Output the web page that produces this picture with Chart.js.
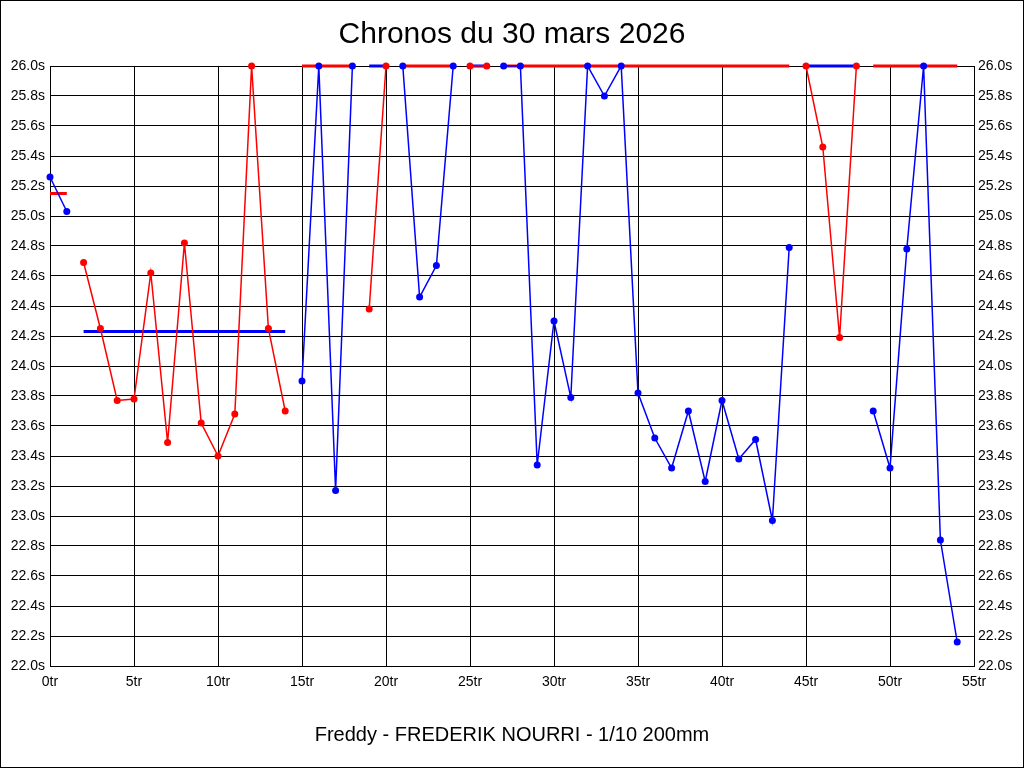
<!DOCTYPE html>
<html>
<head>
<meta charset="utf-8">
<script src="https://cdn.jsdelivr.net/npm/chart.js@4/dist/chart.umd.min.js"></script>
<style>
    html, body { margin: 0; padding: 0; background: #fff; }
    #wrap { position: relative; width: 1024px; height: 768px; }
    #chart { position: absolute; left: 0; top: 0; }
    .txt { position: absolute; left: 0; width: 1024px; text-align: center; color: #000;
           font-family: "Liberation Sans", Arial, sans-serif; white-space: nowrap; }
    #title { top: 16px; font-size: 30px; }
    #subtitle { top: 723px; font-size: 20px; }
</style>
</head>
<body>
<div id="wrap">
    <canvas id="chart" width="1024" height="768"></canvas>
    <div id="title" class="txt">Chronos du 30 mars 2026</div>
    <div id="subtitle" class="txt">Freddy - FREDERIK NOURRI - 1/10 200mm</div>
</div>
<script>
// lap times in seconds, one per lap (0tr..54tr); times over 26.0s are shown at the top edge
const lapTimes = [
    25.26, 25.03, 24.69, 24.25, 23.77, 23.78, 24.62, 23.49, 24.82, 23.62,
    23.40, 23.68, 26.0, 24.25, 23.70, 23.90, 26.0, 23.17, 26.0, 24.38,
    26.0, 26.0, 24.46, 24.67, 26.0, 26.0, 26.0, 26.0, 26.0, 23.34,
    24.30, 23.79, 26.0, 25.80, 26.0, 23.82, 23.52, 23.32, 23.70, 23.23,
    23.77, 23.38, 23.51, 22.97, 24.79, 26.0, 25.46, 24.19, 26.0, 23.70,
    23.32, 24.78, 26.0, 22.84, 22.16
];

// runs: first lap, last lap, colour of the run, average time of the run
const runStart = [0, 2, 15, 19, 21, 25, 27, 45, 49];
const runEnd   = [1, 14, 18, 20, 24, 26, 44, 48, 54];
const runColor = ["blue", "red", "blue", "red", "blue", "red", "blue", "red", "blue"];
const runAvg   = [25.15, 24.23, 26.0, 26.0, 26.0, 26.0, 26.0, 26.0, 26.0];

const xTicks = { min: 0, max: 55, step: 5 };
const yTicks = { min: 22.0, max: 26.0, step: 0.2 };

const COLORS = { red: "#ff0000", blue: "#0000ff" };

const datasets = [];
runStart.forEach((s, i) => {
    const pts = [];
    for (let lap = s; lap <= runEnd[i]; lap++) pts.push({ x: lap, y: lapTimes[lap] });
    const c = COLORS[runColor[i]];
    datasets.push({
        data: pts,
        showLine: true,
        borderColor: c,
        backgroundColor: c,
        borderWidth: 1.5,
        pointRadius: 3.5,
        pointBorderWidth: 0,
        pointBackgroundColor: c,
        clip: false,
        order: 1
    });
    // average line drawn in the other colour
    const ac = runColor[i] === "red" ? COLORS.blue : COLORS.red;
    datasets.push({
        data: [{ x: s, y: runAvg[i] }, { x: runEnd[i], y: runAvg[i] }],
        showLine: true,
        borderColor: ac,
        borderWidth: 3,
        pointRadius: 0,
        clip: false,
        order: 2
    });
});

const frame = {
    id: "frame",
    beforeDraw(chart) {
        const ctx = chart.ctx;
        ctx.save();
        ctx.fillStyle = "#fff";
        ctx.fillRect(0, 0, chart.width, chart.height);
        ctx.strokeStyle = "#000";
        ctx.lineWidth = 1;
        ctx.strokeRect(0.5, 0.5, chart.width - 1, chart.height - 1);
        ctx.restore();
    },
    beforeDatasetsDraw(chart) {
        const ctx = chart.ctx;
        const a = chart.chartArea;
        ctx.save();
        ctx.strokeStyle = "#000";
        ctx.lineWidth = 1;
        ctx.strokeRect(Math.round(a.left) + 0.5, Math.round(a.top) + 0.5,
                       Math.round(a.right - a.left), Math.round(a.bottom - a.top));
        ctx.restore();
    }
};

const tickFont = { family: "'Liberation Sans', Arial, sans-serif", size: 14 };
const yLabel = v => Number(v).toFixed(1) + "s";

new Chart(document.getElementById("chart"), {
    type: "scatter",
    data: { datasets },
    options: {
        responsive: false,
        animation: false,
        events: [],
        layout: { padding: { top: 66, left: 0, right: 0, bottom: 0 } },
        plugins: { legend: { display: false }, tooltip: { enabled: false } },
        scales: {
            x: {
                type: "linear",
                min: xTicks.min, max: xTicks.max,
                border: { display: false },
                grid: { color: "#000", lineWidth: 1, drawTicks: false },
                ticks: { stepSize: xTicks.step, color: "#000", font: tickFont, padding: 8,
                         maxRotation: 0, autoSkip: false, callback: v => v + "tr" },
                afterFit: s => { s.height = 102; }
            },
            y: {
                type: "linear", position: "left",
                min: yTicks.min, max: yTicks.max,
                border: { display: false },
                grid: { color: "#000", lineWidth: 1, drawTicks: false },
                ticks: { stepSize: yTicks.step, color: "#000", font: tickFont, padding: 5,
                         autoSkip: false, callback: yLabel },
                afterFit: s => { s.width = 50; }
            },
            y2: {
                type: "linear", position: "right",
                min: yTicks.min, max: yTicks.max,
                border: { display: false },
                grid: { display: false, drawTicks: false },
                ticks: { stepSize: yTicks.step, color: "#000", font: tickFont, padding: 4,
                         autoSkip: false, callback: yLabel },
                afterFit: s => { s.width = 50; }
            }
        }
    },
    plugins: [frame]
});
</script>
</body>
</html>
